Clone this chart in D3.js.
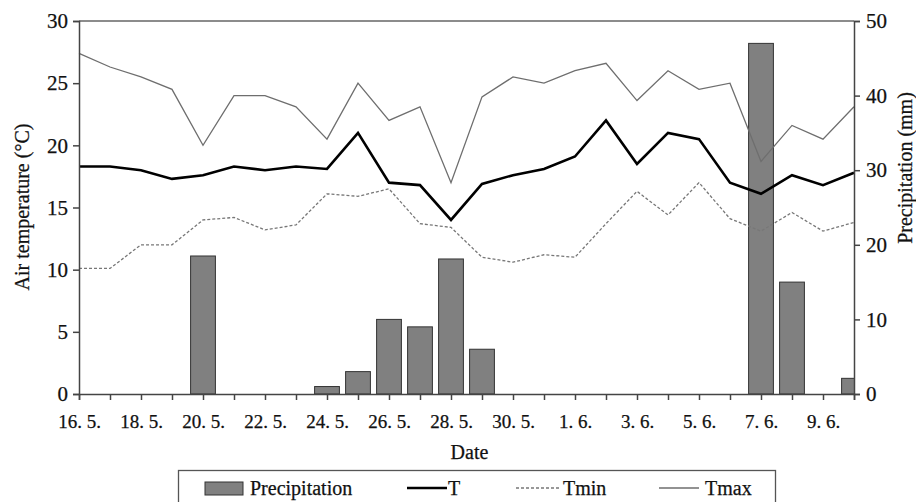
<!DOCTYPE html>
<html>
<head>
<meta charset="utf-8">
<script src="https://cdn.jsdelivr.net/npm/d3@7"></script>
<style>
  body { margin: 0; background: #fff; }
  svg { display: block; font-family: "Liberation Serif", "Times New Roman", serif; }
  svg text { fill: #111; stroke: #111; stroke-width: 0.25px; }
</style>
</head>
<body>
<script>
// daily values, 16. 5. .. 10. 6.
var days = [16,17,18,19,20,21,22,23,24,25,26,27,28,29,30,31,1,2,3,4,5,6,7,8,9,10];
var months = [5,5,5,5,5,5,5,5,5,5,5,5,5,5,5,5,6,6,6,6,6,6,6,6,6,6];
var tMean = [18.3,18.3,18.0,17.3,17.6,18.3,18.0,18.3,18.1,21.0,17.0,16.8,14.0,16.9,17.6,18.1,19.1,22.0,18.5,21.0,20.5,17.0,16.1,17.6,16.8,17.8];
var tMin = [10.1,10.1,12.0,12.0,14.0,14.2,13.2,13.6,16.1,15.9,16.5,13.7,13.4,11.0,10.6,11.2,11.0,13.7,16.3,14.4,17.0,14.1,13.1,14.6,13.1,13.8];
var tMax = [27.4,26.3,25.5,24.5,20.0,24.0,24.0,23.1,20.5,25.0,22.0,23.1,17.0,23.9,25.5,25.0,26.0,26.6,23.6,26.0,24.5,25.0,18.7,21.6,20.5,23.1];
var precip = [0,0,0,0,18.5,0,0,0,1.0,3.0,10.0,9.0,18.1,6.0,0,0,0,0,0,0,0,0,47.0,15.0,0,2.1];
var tempTicks = [0,5,10,15,20,25,30];
var precTicks = [0,10,20,30,40,50];

var width = 916, height = 502;
var margin = {left: 79, right: 62, top: 21, bottom: 108};

var svg = d3.select('body').append('svg')
    .attr('width', width)
    .attr('height', height);

var x = d3.scaleLinear()
    .domain([0, days.length - 1])
    .range([margin.left, width - margin.right]);
var yT = d3.scaleLinear().domain([0, 30]).range([height - margin.bottom, margin.top]);
var yP = d3.scaleLinear().domain([0, 50]).range([height - margin.bottom, margin.top]);

var step = x(1) - x(0),
    barW = step * 0.8;

// clip so the last bar stops at the right axis
svg.append('clipPath').attr('id', 'plot')
    .append('rect')
    .attr('x', margin.left).attr('y', margin.top - 1)
    .attr('width', x.range()[1] - margin.left)
    .attr('height', yT.range()[0] - margin.top + 1);

// bars
svg.append('g').attr('clip-path', 'url(#plot)')
    .selectAll('rect')
    .data(precip.map(function (v, i) { return {i: i, v: v}; }).filter(function (d) { return d.v > 0; }))
    .enter().append('rect')
    .attr('x', function (d) { return x(d.i) - barW / 2; })
    .attr('y', function (d) { return yP(d.v); })
    .attr('width', barW)
    .attr('height', function (d) { return yP(0) - yP(d.v); })
    .style('fill', '#808080')
    .style('stroke', '#333')
    .style('stroke-width', 1);

// lines
var line = d3.line()
    .x(function (d, i) { return x(i); })
    .y(function (d) { return yT(d); });

svg.append('path').datum(tMax)
    .attr('d', line)
    .style('fill', 'none').style('stroke', '#6e6e6e').style('stroke-width', 1.3);
svg.append('path').datum(tMin)
    .attr('d', line)
    .style('fill', 'none').style('stroke', '#777').style('stroke-width', 1.3)
    .style('stroke-dasharray', '3,2');
svg.append('path').datum(tMean)
    .attr('d', line)
    .style('fill', 'none').style('stroke', '#000').style('stroke-width', 2.6);

// frame top
svg.append('line')
    .attr('x1', margin.left).attr('x2', x.range()[1])
    .attr('y1', margin.top).attr('y2', margin.top)
    .style('stroke', '#666').style('stroke-width', 1.5);

// axes
var xAxis = d3.axisBottom(x)
    .tickValues(d3.range(days.length))
    .tickSize(6)
    .tickFormat(function (i) { return i % 2 == 0 ? days[i] + '. ' + months[i] + '.' : ''; });

var gx = svg.append('g')
    .attr('transform', 'translate(0,' + yT(0) + ')')
    .call(xAxis);

var gl = svg.append('g')
    .attr('transform', 'translate(' + margin.left + ',0)')
    .call(d3.axisLeft(yT).tickValues(tempTicks).tickSize(6).tickPadding(5));

var gr = svg.append('g')
    .attr('transform', 'translate(' + x.range()[1] + ',0)')
    .call(d3.axisRight(yP).tickValues(precTicks).tickSize(6).tickPadding(6));

[gx, gl, gr].forEach(function (g) {
    g.select('.domain').style('stroke', '#444').style('stroke-width', 1.5);
    g.selectAll('.tick line').style('stroke', '#444').style('stroke-width', 1.5);
    g.selectAll('text')
        .style('font-family', '"Liberation Serif", serif')
        .style('font-size', '21px');
});
gx.selectAll('text').style('font-size', '19px').attr('dy', '1.3em');

// axis titles
svg.append('text')
    .attr('transform', 'translate(29,207) rotate(-90)')
    .attr('text-anchor', 'middle')
    .style('font-size', '20px')
    .text('Air temperature (\u00b0C)');

svg.append('text')
    .attr('transform', 'translate(912,168) rotate(-90)')
    .attr('text-anchor', 'middle')
    .style('font-size', '20px')
    .text('Precipitation (mm)');

svg.append('text')
    .attr('x', (margin.left + x.range()[1]) / 2 + 3)
    .attr('y', 459)
    .attr('text-anchor', 'middle')
    .style('font-size', '20px')
    .text('Date');

// legend
var legend = svg.append('g');
legend.append('rect')
    .attr('x', 178.5).attr('y', 470.5)
    .attr('width', 597).attr('height', 40)
    .style('fill', '#fff').style('stroke', '#555').style('stroke-width', 1.3);

legend.append('rect')
    .attr('x', 205).attr('y', 482).attr('width', 38).attr('height', 13)
    .style('fill', '#808080').style('stroke', '#333');
legend.append('text').attr('x', 250).attr('y', 495).style('font-size', '20px').text('Precipitation');

legend.append('line').attr('x1', 407).attr('x2', 447).attr('y1', 488).attr('y2', 488)
    .style('stroke', '#000').style('stroke-width', 2.6);
legend.append('text').attr('x', 448).attr('y', 495).style('font-size', '20px').text('T');

legend.append('line').attr('x1', 516).attr('x2', 561).attr('y1', 488).attr('y2', 488)
    .style('stroke', '#777').style('stroke-width', 1.3).style('stroke-dasharray', '3,2');
legend.append('text').attr('x', 563).attr('y', 495).style('font-size', '20px').text('Tmin');

legend.append('line').attr('x1', 659).attr('x2', 699).attr('y1', 488).attr('y2', 488)
    .style('stroke', '#6e6e6e').style('stroke-width', 1.3);
legend.append('text').attr('x', 705).attr('y', 495).style('font-size', '20px').text('Tmax');
</script>
</body>
</html>
